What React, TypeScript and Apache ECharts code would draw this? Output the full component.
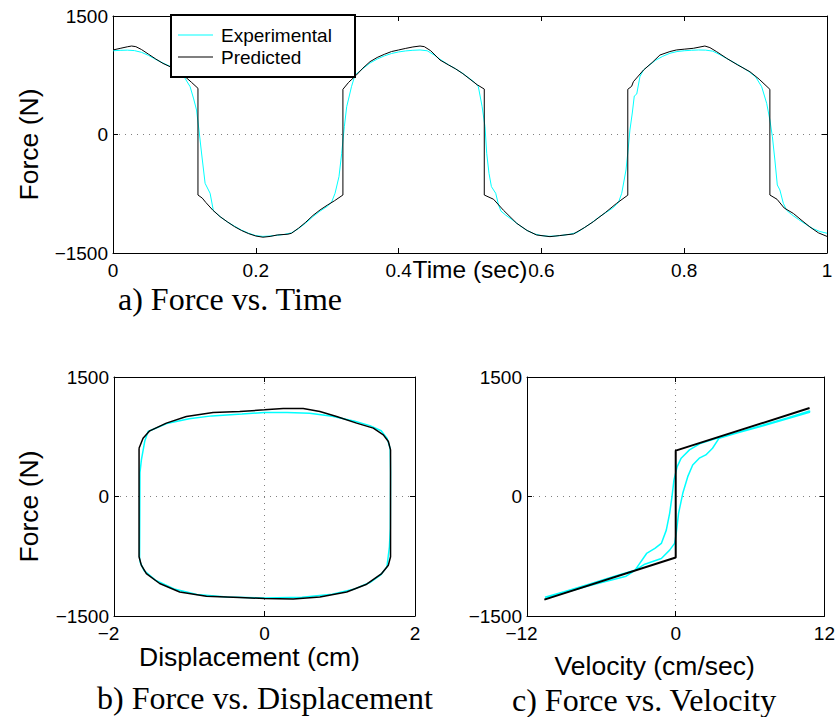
import React, { useEffect, useRef } from "react";
import * as echarts from "echarts";

// ---------- ranges / ticks ----------
const timeRange = [0, 1, 0.2];
const forceRange = [-1500, 1500, 1500];
const dispRange = [-2, 2, 2];
const velRange = [-12, 12, 12];

const seriesNames = ["Experimental", "Predicted"];
const captions = ["a) Force vs. Time", "b) Force vs. Displacement", "c) Force vs. Velocity"];

// ---------- a) Force vs Time ----------
const experimentalTime = [
  [0, 1060], [0.01, 1065], [0.02, 1068], [0.03, 1062], [0.04, 1040], [0.05, 1000], [0.06, 950], [0.07, 905],
  [0.08, 862], [0.09, 805], [0.1, 725], [0.108, 605], [0.113, 450], [0.117, 310], [0.1204, 57], [0.124, -234],
  [0.129, -618], [0.136, -744], [0.1405, -960], [0.15, -1040], [0.16, -1105], [0.17, -1160], [0.18, -1210],
  [0.19, -1250], [0.2, -1280], [0.21, -1290], [0.22, -1285], [0.23, -1275], [0.24, -1265], [0.25, -1245],
  [0.26, -1190], [0.27, -1120], [0.28, -1040], [0.29, -970], [0.3, -910], [0.306, -860], [0.311, -744],
  [0.3165, -534], [0.3203, -238], [0.324, 99], [0.3273, 352], [0.3296, 437], [0.334, 605], [0.339, 753],
  [0.35, 835], [0.36, 905], [0.37, 955], [0.38, 995], [0.39, 1025], [0.4, 1045], [0.41, 1058], [0.42, 1066],
  [0.43, 1070], [0.44, 1060], [0.45, 1005], [0.46, 940], [0.47, 882], [0.48, 830], [0.49, 772], [0.5, 705],
  [0.507, 655], [0.5117, 605], [0.517, 352], [0.521, 99], [0.5234, -238], [0.5266, -491], [0.53, -660],
  [0.536, -744], [0.54, -892], [0.5434, -970], [0.55, -1020], [0.56, -1085], [0.57, -1155], [0.58, -1215],
  [0.59, -1258], [0.6, -1280], [0.61, -1288], [0.62, -1285], [0.63, -1275], [0.64, -1262], [0.65, -1240],
  [0.66, -1180], [0.67, -1120], [0.68, -1050], [0.69, -990], [0.7, -930], [0.708, -860], [0.7125, -744],
  [0.7185, -449], [0.721, -234], [0.724, 57], [0.7273, 272], [0.7301, 487], [0.7335, 512], [0.738, 732],
  [0.743, 816], [0.75, 870], [0.76, 940], [0.77, 990], [0.78, 1028], [0.79, 1050], [0.8, 1060], [0.81, 1066],
  [0.82, 1070], [0.83, 1068], [0.84, 1055], [0.85, 1010], [0.86, 960], [0.87, 910], [0.88, 858], [0.89, 800],
  [0.9, 730], [0.9085, 605], [0.9155, 395], [0.92, 184], [0.9235, -28], [0.927, -323], [0.9304, -639],
  [0.934, -702], [0.9388, -871], [0.9435, -960], [0.95, -1010], [0.96, -1075], [0.97, -1135], [0.98, -1190],
  [0.99, -1228], [1.0, -1250],
];

const predictedTime = [
  [0, 1070], [0.01, 1090], [0.02, 1110], [0.026, 1120], [0.032, 1112], [0.04, 1075], [0.05, 1015], [0.06, 955],
  [0.07, 900], [0.08, 858], [0.09, 805], [0.1, 740], [0.11, 660], [0.119, 585],
  [0.119, -766], [0.125, -805], [0.13, -860], [0.14, -960], [0.15, -1040], [0.16, -1105], [0.17, -1165],
  [0.18, -1215], [0.19, -1255], [0.2, -1285], [0.21, -1300], [0.22, -1290], [0.23, -1272], [0.245, -1262],
  [0.25, -1250], [0.26, -1185], [0.27, -1110], [0.28, -1025], [0.29, -955], [0.3, -895], [0.31, -840], [0.322, -766],
  [0.322, 572], [0.33, 660], [0.34, 745], [0.35, 840], [0.36, 922], [0.37, 975], [0.38, 1015], [0.39, 1050],
  [0.4, 1070], [0.41, 1090], [0.42, 1108], [0.43, 1120], [0.436, 1112], [0.445, 1060], [0.458, 943], [0.47, 880],
  [0.48, 830], [0.49, 770], [0.5, 700], [0.51, 630], [0.52, 575],
  [0.52, -766], [0.533, -820], [0.547, -960], [0.5654, -1124], [0.58, -1215], [0.5934, -1272], [0.612, -1293],
  [0.625, -1280], [0.645, -1259], [0.66, -1180], [0.6727, -1104], [0.69, -985], [0.7054, -871], [0.721, -768],
  [0.721, 572], [0.7264, 610], [0.7288, 668], [0.743, 816], [0.755, 910], [0.766, 1006], [0.78, 1050],
  [0.789, 1070], [0.8, 1080], [0.8128, 1091], [0.829, 1120], [0.836, 1100], [0.8455, 1048], [0.8595, 964],
  [0.875, 880], [0.892, 795], [0.905, 700], [0.92, 572],
  [0.92, -766], [0.93, -820], [0.94, -930], [0.953, -1000], [0.965, -1090], [0.976, -1170], [0.988, -1245],
  [1.0, -1290],
];

// ---------- b) Force vs Displacement ----------
const experimentalDisp = [
  [-1.66, -780], [-1.655, 300], [-1.636, 460], [-1.59, 700], [-1.547, 816], [-1.3, 915], [-1.0, 975],
  [-0.7, 1012], [-0.3, 1035], [0, 1055], [0.3, 1055], [0.6, 1045], [0.9, 1008], [1.2, 945], [1.4, 890],
  [1.55, 825], [1.63, 730], [1.67, 600], [1.675, 300], [1.672, -400], [1.66, -631], [1.627, -883],
  [1.54, -988], [1.4, -1080], [1.2, -1160], [0.9, -1228], [0.5, -1265], [0, -1275], [-0.5, -1262],
  [-0.9, -1230], [-1.2, -1160], [-1.45, -1050], [-1.6, -930], [-1.65, -830], [-1.66, -780],
];

const predictedDisp = [
  [-1.667, 606], [-1.614, 732], [-1.525, 824], [-1.304, 921], [-1.038, 1004], [-0.683, 1055], [-0.329, 1067],
  [0.0, 1088], [0.248, 1105], [0.514, 1105], [0.736, 1067], [0.958, 1004], [1.224, 921], [1.446, 858],
  [1.579, 774], [1.646, 690], [1.675, 585], [1.675, -757], [1.646, -862], [1.557, -967], [1.358, -1101],
  [1.092, -1198], [0.736, -1261], [0.381, -1286], [0, -1281], [-0.329, -1268], [-0.772, -1252],
  [-1.127, -1198], [-1.393, -1092], [-1.57, -967], [-1.637, -862], [-1.667, -757], [-1.667, 606],
];

// ---------- c) Force vs Velocity ----------
const experimentalVel = [
  [-10.55, -1265], [-9, -1195], [-7, -1100], [-5, -1005], [-3.28, -925], [-2.35, -715], [-1.68, -652],
  [-1.16, -589], [-0.76, -422], [-0.49, -211], [-0.3, -2], [-0.14, 208], [0.12, 375], [0.44, 481],
  [1.11, 585], [2.03, 669], [3.5, 740], [5, 805], [7, 895], [9, 985], [10.8, 1075], [10.8, 1058], [9, 975],
  [7, 885], [5, 800], [3.5, 732], [2.97, 606], [2.43, 522], [1.9, 481], [1.37, 396], [0.97, 249], [0.57, 40],
  [0.23, -211], [0.04, -463], [-0.09, -589], [-0.49, -673], [-1.16, -778], [-2.5, -850], [-4, -1000],
  [-5.5, -1060], [-7, -1120], [-9, -1210], [-10.55, -1285],
];

const predictedVel = [
  [-10.6, -1294], [0, -765], [0, 576], [10.8, 1110],
];

const SANS = '"Liberation Sans", Arial, Helvetica, sans-serif';
const SERIF = '"Liberation Serif", "Times New Roman", serif';
const CYAN = "#00ffff";
const BLACK = "#000000";
const TICK_FONT = 19;
const NAME_FONT = 26.5;

function fmtNum(v: number): string {
  const r = Math.round(v * 1000) / 1000;
  return r < 0 ? "\u2212" + String(-r) : String(r);
}

function makeX(
  gridIndex: number,
  range: number[],
  name: string,
  nameGap: number,
  split: boolean,
  nameShift: number,
  nameFont: number
) {
  const common = {
    type: "value",
    gridIndex,
    min: range[0],
    max: range[1],
    interval: range[2],
    axisLine: { show: true, onZero: false, lineStyle: { color: BLACK, width: 1 } },
    axisTick: { show: true, inside: true, length: 5, lineStyle: { color: BLACK, width: 1 } },
  };
  return [
    {
      ...common,
      position: "bottom",
      axisLabel: {
        show: true,
        margin: 8,
        color: BLACK,
        fontFamily: SANS,
        fontSize: TICK_FONT,
        lineHeight: TICK_FONT,
        showMinLabel: true,
        showMaxLabel: true,
        hideOverlap: false,
        formatter: (v: number) => (v < 0 ? "{neg|" + fmtNum(v) + "}" : fmtNum(v)),
        rich: {
          neg: { fontFamily: SANS, fontSize: TICK_FONT, lineHeight: TICK_FONT, color: BLACK, padding: [0, 11, 0, 0] },
        },
      },
      splitLine: { show: split, lineStyle: { color: "#808080", width: 1, type: [1, 5] } },
      name,
      nameLocation: "middle",
      nameGap,
      nameMoveOverlap: false,
      nameTextStyle: {
        fontFamily: SANS,
        fontSize: nameFont,
        lineHeight: nameFont,
        color: BLACK,
        padding: nameShift > 0 ? [0, nameShift, 0, 0] : 0,
      },
    },
    {
      ...common,
      position: "top",
      axisLabel: { show: false },
      splitLine: { show: false },
    },
  ];
}

function makeY(gridIndex: number, range: number[], name: string, nameGap: number) {
  const common = {
    type: "value",
    gridIndex,
    min: range[0],
    max: range[1],
    interval: range[2],
    axisLine: { show: true, onZero: false, lineStyle: { color: BLACK, width: 1 } },
    axisTick: { show: true, inside: true, length: 5, lineStyle: { color: BLACK, width: 1 } },
  };
  return [
    {
      ...common,
      position: "left",
      axisLabel: {
        show: true,
        margin: 5,
        color: BLACK,
        fontFamily: SANS,
        fontSize: TICK_FONT,
        lineHeight: TICK_FONT,
        showMinLabel: true,
        showMaxLabel: true,
        hideOverlap: false,
        formatter: (v: number) => fmtNum(v),
      },
      splitLine: { show: true, lineStyle: { color: "#808080", width: 1, type: [1, 5] } },
      name,
      nameLocation: "middle",
      nameGap,
      nameMoveOverlap: false,
      nameTextStyle: {
        fontFamily: SANS,
        fontSize: NAME_FONT,
        lineHeight: NAME_FONT,
        color: BLACK,
        padding: [0, 20, 0, 0],
      },
    },
    {
      ...common,
      position: "right",
      axisLabel: { show: false },
      splitLine: { show: false },
    },
  ];
}

function line(name: string, data: number[][], color: string, width: number, xi: number, yi: number) {
  return {
    type: "line",
    name,
    data,
    xAxisIndex: xi,
    yAxisIndex: yi,
    symbol: "none",
    showSymbol: false,
    smooth: false,
    animation: false,
    lineStyle: { color, width },
    itemStyle: { color },
    z: 2,
  };
}

export default function App() {
  const ref = useRef<HTMLDivElement>(null);
  useEffect(() => {
    document.body.style.margin = "0";
    const chart = echarts.init(ref.current!, undefined, { renderer: "svg" });
    const option: any = {
      animation: false,
      backgroundColor: "#ffffff",
      color: [CYAN, BLACK],
      grid: [
        { left: 113, top: 16, width: 714, height: 237 },
        { left: 114, top: 377, width: 301, height: 239 },
        { left: 527, top: 377, width: 301, height: 239 },
      ],
      xAxis: [
        ...makeX(0, timeRange, "Time (sec)", 4, false, 0, 24.5),
        ...makeX(1, dispRange, "Displacement (cm)", 28, true, 30, NAME_FONT),
        ...makeX(2, velRange, "Velocity (cm/sec)", 37, true, 42, NAME_FONT),
      ],
      yAxis: [
        ...makeY(0, forceRange, "Force (N)", 71),
        ...makeY(1, forceRange, "Force (N)", 72),
        ...makeY(2, forceRange, "", 60),
      ],
      legend: {
        show: true,
        data: seriesNames,
        left: 178,
        top: 24,
        orient: "vertical",
        icon: "rect",
        itemWidth: 35,
        itemHeight: 1,
        itemGap: 0,
        padding: 0,
        selectedMode: false,
        z: 10,
        textStyle: { fontFamily: SANS, fontSize: 19, color: BLACK, lineHeight: 22, padding: [0, 0, 0, 3] },
      },
      graphic: [
        {
          type: "rect",
          z: 5,
          shape: { x: 171, y: 15, width: 184, height: 62 },
          style: { fill: "#ffffff", stroke: BLACK, lineWidth: 2 },
        },
        {
          type: "text",
          x: 118,
          y: 299,
          style: { text: captions[0], font: "32px " + SERIF, fill: BLACK, verticalAlign: "middle", textVerticalAlign: "middle" },
        },
        {
          type: "text",
          x: 97,
          y: 698,
          style: { text: captions[1], font: "32px " + SERIF, fill: BLACK, verticalAlign: "middle", textVerticalAlign: "middle" },
        },
        {
          type: "text",
          x: 512,
          y: 700,
          style: { text: captions[2], font: "32px " + SERIF, fill: BLACK, verticalAlign: "middle", textVerticalAlign: "middle" },
        },
      ],
      series: [
        line(seriesNames[0], experimentalTime, CYAN, 1, 0, 0),
        line(seriesNames[1], predictedTime, BLACK, 1, 0, 0),
        line(seriesNames[0], experimentalDisp, CYAN, 1.5, 2, 2),
        line(seriesNames[1], predictedDisp, BLACK, 1.5, 2, 2),
        line(seriesNames[0], experimentalVel, CYAN, 1.5, 4, 4),
        line(seriesNames[1], predictedVel, BLACK, 2, 4, 4),
      ],
    };
    chart.setOption(option);
    return () => chart.dispose();
  }, []);
  return <div ref={ref} style={{ width: 838, height: 717 }} />;
}
